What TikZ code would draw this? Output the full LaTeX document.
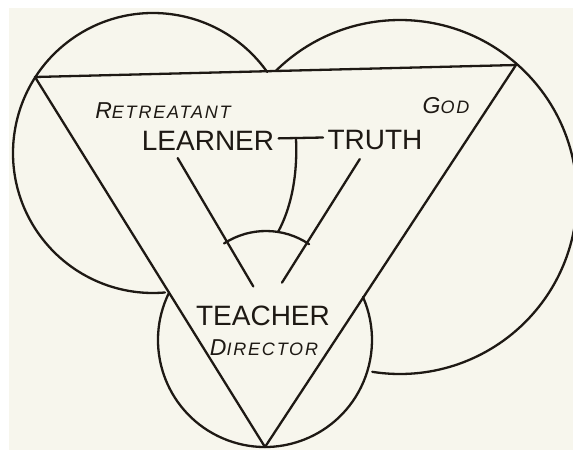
\documentclass[tikz,border=0pt]{standalone}
\usepackage{fontspec}
\setmainfont{Liberation Sans}
\newfontfamily\spacedsans[LetterSpace=10]{Liberation Sans}
\definecolor{paper}{RGB}{247,246,237}
\definecolor{ink}{RGB}{30,25,20}
% big first letter, smaller caps after it
\newcommand{\smallcapword}[2]{{\spacedsans\itshape\fontsize{23}{23}\selectfont #1\fontsize{18}{18}\selectfont #2}}

\begin{document}
\begin{tikzpicture}[x=1pt, y=-1pt, color=ink, line width=2.3pt, line cap=round, line join=round,
    bigword/.style={font=\fontsize{28}{28}\selectfont, anchor=base},
    smallword/.style={anchor=base}]

  % -- Paper --
  \fill[white] (0,0) rectangle (573,450);
  \fill[paper] (9,8) rectangle (573,450);
  \useasboundingbox (0,0) rectangle (573,450);
  \clip (0,0) rectangle (573,450);

  % -- Corners --
  \coordinate (tl) at (35,77);
  \coordinate (tr) at (516,65);
  \coordinate (bot) at (265,447);
  \coordinate (apex) at (266,308);

  % -- Triangle --
  \draw (tl) -- (tr) -- (bot) -- cycle;

  % -- Circles (outside parts only) --
  \draw (153,153) ++(-35.4:140) arc[start angle=-35.4, end angle=-274.9, radius=140];
  \draw (400,197) ++(-134.5:177) arc[start angle=-134.5, end angle=99, radius=177];
  \draw (265,340) ++(-153.8:107) arc[start angle=-153.8, end angle=-383.7, radius=107];

  % -- Labels --
  \node[smallword] (retreatant) at (163,118) {\smallcapword{R}{ETREATANT}};
  \node[bigword] (learner) at (208,150) {LEARNER};
  \node[bigword] (truth) at (375,149) {TRUTH};
  \node[smallword] (god) at (446,113) {\smallcapword{G}{OD}};
  \node[bigword] (teacher) at (263,325) {TEACHER};
  \node[smallword] (director) at (264,355) {\smallcapword{D}{IRECTOR}};

  % -- Inner V and its arc --
  \draw ([shift={(-120.5:174)}]apex) -- ([shift={(-120.5:25)}]apex);
  \draw ([shift={(-57.8:176)}]apex) -- ([shift={(-57.8:30)}]apex);
  \draw (apex) ++(-56:77) arc[start angle=-56, end angle=-123, radius=77];
  \path (apex) ++(-81:77) coordinate (stemend);

  % -- T between learner and truth --
  \draw ([yshift=2pt]learner.east) -- ([yshift=2pt]truth.west) coordinate[pos=0.39] (stemtop);
  \draw (stemtop) .. controls +(2,40) and +(12,-22) .. (stemend);

\end{tikzpicture}
\end{document}
